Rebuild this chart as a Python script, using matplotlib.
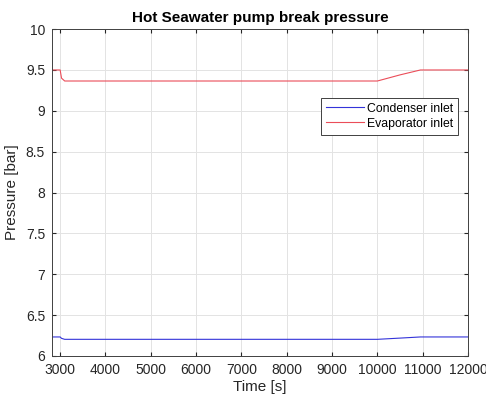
import matplotlib
matplotlib.use("Agg")
import matplotlib.pyplot as plt

plt.rcParams['font.family'] = ['Liberation Sans', 'DejaVu Sans']

time = [2800, 3000, 3030, 3100, 10000, 10500, 10950, 12000]
condenser = [6.232, 6.232, 6.215, 6.203, 6.203, 6.218, 6.232, 6.232]
evaporator = [9.5, 9.5, 9.40, 9.365, 9.365, 9.44, 9.5, 9.5]

xticks = [3000, 4000, 5000, 6000, 7000, 8000, 9000, 10000, 11000, 12000]
yticks = [6, 6.5, 7, 7.5, 8, 8.5, 9, 9.5, 10]
ytick_labels = ['6', '6.5', '7', '7.5', '8', '8.5', '9', '9.5', '10']

fig = plt.figure(figsize=(4.86, 3.99), dpi=100)
ax = fig.add_axes([0.107, 0.108, 0.856, 0.819])
ax.plot(time, condenser, color=(0.2, 0.2, 0.85), lw=0.8, label='Condenser inlet')
ax.plot(time, evaporator, color=(0.92, 0.3, 0.35), lw=0.8, label='Evaporator inlet')
ax.set_xlim(2820, 12000)
ax.set_ylim(6, 10)
ax.set_xticks(xticks)
ax.set_xticklabels([str(t) for t in xticks])
ax.set_yticks(yticks)
ax.set_yticklabels(ytick_labels)
ax.grid(True, color='#e3e3e3', lw=0.7)
ax.set_axisbelow(True)
ax.tick_params(direction='in', length=3, labelsize=10, colors='#262626', top=True, right=True, pad=5)
for s in ax.spines.values():
    s.set_color('#404040')
    s.set_linewidth(0.7)
ax.set_xlabel('Time [s]', fontsize=11, color='#262626', labelpad=2)
ax.set_ylabel('Pressure [bar]', fontsize=11, color='#262626', labelpad=5)
ax.set_title('Hot Seawater pump break pressure', fontsize=11, fontweight='bold', pad=5)
leg = ax.legend(loc='upper right', bbox_to_anchor=(0.975, 0.79), fontsize=8.8,
                fancybox=False, framealpha=1, edgecolor='#404040', borderpad=0.4,
                handlelength=3.1, handletextpad=0.2, labelspacing=0.25, borderaxespad=0)
leg.get_frame().set_linewidth(0.7)
fig.savefig('out.png', dpi=100)
